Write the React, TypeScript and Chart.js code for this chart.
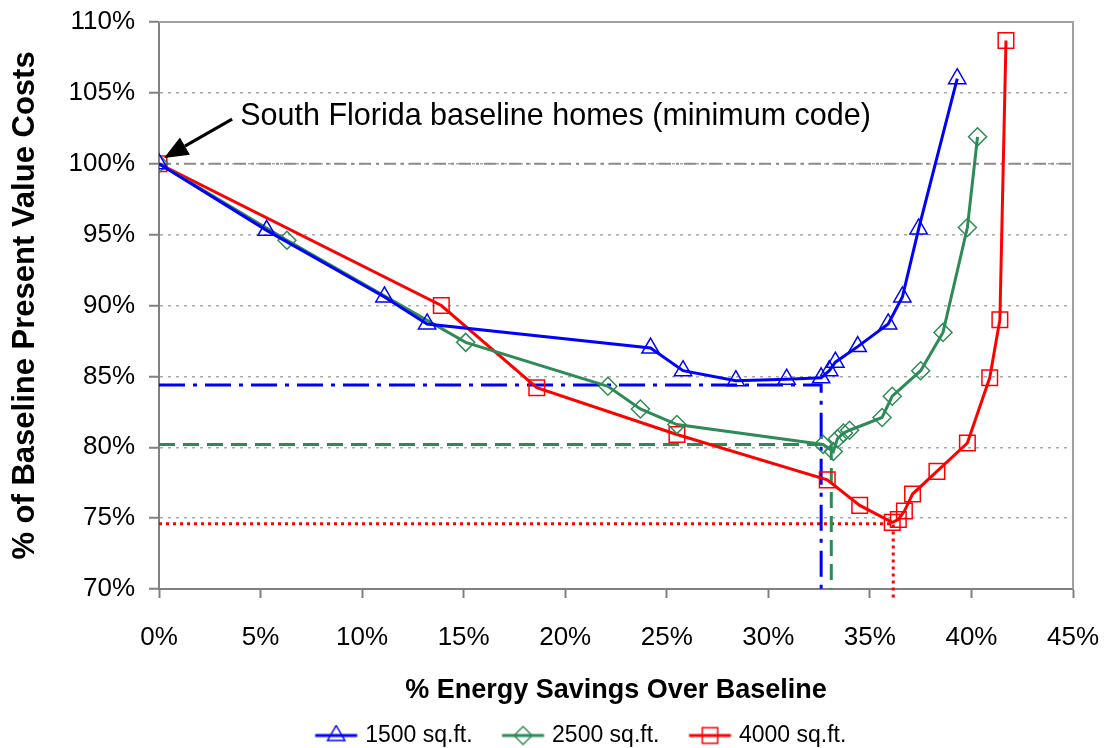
import React, { useEffect, useRef } from "react";
import { Chart, registerables } from "chart.js";

Chart.register(...registerables);

// ---------- data ----------
const seriesLabels = ["1500 sq.ft.", "2500 sq.ft.", "4000 sq.ft."];

const blueX = [0, 5.3, 11.1, 13.2, 24.2, 25.8, 28.4, 30.9, 32.6, 33.0, 33.3, 34.4, 35.9, 36.6, 37.4, 39.3];
const blueY = [100, 95.3, 90.6, 88.7, 87.0, 85.4, 84.7, 84.8, 84.9, 85.4, 86.0, 87.1, 88.7, 90.6, 95.4, 106.0];

const greenX = [0, 6.3, 15.1, 22.1, 23.7, 25.5, 32.7, 33.2, 33.4, 33.7, 34.0, 35.6, 36.1, 37.5, 38.6, 39.8, 40.3];
const greenY = [100, 94.6, 87.4, 84.3, 82.7, 81.6, 80.2, 79.7, 80.6, 81.0, 81.2, 82.1, 83.6, 85.4, 88.1, 95.5, 101.9];

const redX = [0, 13.9, 18.6, 25.5, 32.9, 34.5, 36.1, 36.4, 36.7, 37.1, 38.3, 39.8, 40.9, 41.4, 41.7];
const redY = [100, 90.0, 84.2, 80.9, 77.7, 75.9, 74.7, 74.9, 75.5, 76.7, 78.3, 80.3, 84.9, 89.0, 108.7];

// reference (optimum) lines
const refBlueX = [0, 32.6, 32.6];
const refBlueY = [84.4, 84.4, 70];
const refGreenX = [0, 33.1, 33.1];
const refGreenY = [80.2, 80.2, 70];
const refRedX = [0, 36.15, 36.15];
const refRedY = [74.6, 74.6, 69.3];
const baselineX = [0, 45];
const baselineY = [100, 100];

const xMin = 0, xMax = 45, xStep = 5;
const yMin = 70, yMax = 110, yStep = 5;

const annotationText = "South Florida baseline homes (minimum code)";
const annotationPos = { x: 4.0, y: 103.35 };
const arrowFrom = { x: 3.6, y: 103.15 };
const arrowTo = { x: 0.25, y: 100.4 };

const xTitle = "% Energy Savings Over Baseline";
const yTitle = "% of Baseline Present Value Costs";

// ---------- helpers ----------
const toXY = (xs: number[], ys: number[]) => xs.map((x, i) => ({ x, y: ys[i] }));

const FONT = "'Liberation Sans', Arial, sans-serif";
const BLUE = "#0000ff";
const GREEN = "#2e8b57";
const RED = "#ff0000";

const LEGEND_SHIFT_X = 31;
const LEGEND_SHIFT_Y = 9;
const ICON_BOX = 65;
const ICON_CANVAS = 85;

function makeLegendIcon(color: string, style: string, radius: number) {
  const c = document.createElement("canvas");
  c.width = ICON_CANVAS;
  c.height = 22;
  const ctx = c.getContext("2d")!;
  const off = (ICON_CANVAS - ICON_BOX) / 2;
  const x0 = off + 26.5, x1 = off + 68.5;
  ctx.strokeStyle = color;
  ctx.lineWidth = 3;
  ctx.beginPath();
  ctx.moveTo(x0, 11);
  ctx.lineTo(x1, 11);
  ctx.stroke();
  ctx.lineWidth = 1.5;
  ctx.beginPath();
  const cx = (x0 + x1) / 2, cy = 11;
  if (style === "triangle") {
    const h = radius;
    ctx.moveTo(cx, cy - h);
    ctx.lineTo(cx + h * 0.866, cy + h * 0.5);
    ctx.lineTo(cx - h * 0.866, cy + h * 0.5);
    ctx.closePath();
  } else if (style === "rectRot") {
    ctx.moveTo(cx, cy - radius);
    ctx.lineTo(cx + radius, cy);
    ctx.lineTo(cx, cy + radius);
    ctx.lineTo(cx - radius, cy);
    ctx.closePath();
  } else {
    const s = radius * Math.SQRT1_2;
    ctx.rect(cx - s, cy - s, 2 * s, 2 * s);
  }
  ctx.stroke();
  return c;
}

const annotationPlugin = {
  id: "annotationPlugin",
  afterLayout(chart: any) {
    if (chart.legend) {
      chart.legend.left += LEGEND_SHIFT_X;
      chart.legend.right += LEGEND_SHIFT_X;
      chart.legend.top += LEGEND_SHIFT_Y;
      chart.legend.bottom += LEGEND_SHIFT_Y;
    }
  },
  afterDraw(chart: any) {
    const { ctx, chartArea, scales } = chart;
    const xs = scales.x, ys = scales.y;
    ctx.save();
    // plot frame (top & right)
    ctx.strokeStyle = "#a0a0a0";
    ctx.lineWidth = 2;
    ctx.beginPath();
    ctx.moveTo(chartArea.left, chartArea.top);
    ctx.lineTo(chartArea.right, chartArea.top);
    ctx.lineTo(chartArea.right, chartArea.bottom);
    ctx.stroke();

    // annotation text
    ctx.fillStyle = "#000";
    ctx.font = `30.5px ${FONT}`;
    ctx.textBaseline = "middle";
    ctx.textAlign = "left";
    ctx.fillText(annotationText, xs.getPixelForValue(annotationPos.x), ys.getPixelForValue(annotationPos.y));

    // arrow
    const x1 = xs.getPixelForValue(arrowFrom.x), y1 = ys.getPixelForValue(arrowFrom.y);
    const x2 = xs.getPixelForValue(arrowTo.x), y2 = ys.getPixelForValue(arrowTo.y);
    const ang = Math.atan2(y2 - y1, x2 - x1);
    const headLen = 24, headW = 10;
    const bx = x2 - headLen * Math.cos(ang), by = y2 - headLen * Math.sin(ang);
    ctx.strokeStyle = "#000";
    ctx.lineWidth = 3;
    ctx.beginPath();
    ctx.moveTo(x1, y1);
    ctx.lineTo(bx, by);
    ctx.stroke();
    ctx.beginPath();
    ctx.moveTo(x2, y2);
    ctx.lineTo(bx + headW * Math.sin(ang), by - headW * Math.cos(ang));
    ctx.lineTo(bx - headW * Math.sin(ang), by + headW * Math.cos(ang));
    ctx.closePath();
    ctx.fillStyle = "#000";
    ctx.fill();
    ctx.restore();
  },
};

export default function App() {
  const canvasRef = useRef<HTMLCanvasElement | null>(null);

  useEffect(() => {
    document.body.style.margin = "0";
    const canvas = canvasRef.current;
    if (!canvas) return;

    const icons = [
      makeLegendIcon(BLUE, "triangle", 10),
      makeLegendIcon(GREEN, "rectRot", 9),
      makeLegendIcon(RED, "rect", 11),
    ];

    const seriesBase = {
      borderWidth: 3,
      pointBorderWidth: 1.5,
      pointBackgroundColor: "rgba(0,0,0,0)",
      tension: 0,
      order: 0,
    };
    const refBase = {
      borderWidth: 3,
      pointRadius: 0,
      tension: 0,
      order: 5,
    };

    const chart = new Chart(canvas, {
      type: "line",
      data: {
        datasets: [
          {
            ...seriesBase,
            label: seriesLabels[0],
            data: toXY(blueX, blueY),
            borderColor: BLUE,
            pointBorderColor: BLUE,
            pointStyle: "triangle",
            pointRadius: 10,
          },
          {
            ...seriesBase,
            label: seriesLabels[1],
            data: toXY(greenX, greenY),
            borderColor: GREEN,
            pointBorderColor: GREEN,
            pointStyle: "rectRot",
            pointRadius: 9,
          },
          {
            ...seriesBase,
            label: seriesLabels[2],
            data: toXY(redX, redY),
            borderColor: RED,
            pointBorderColor: RED,
            pointStyle: "rect",
            pointRadius: 11,
          },
          {
            ...refBase,
            label: "ref1500",
            data: toXY(refBlueX, refBlueY),
            borderColor: BLUE,
            borderDash: [26, 8, 4, 8],
          },
          {
            ...refBase,
            label: "ref2500",
            data: toXY(refGreenX, refGreenY),
            borderColor: GREEN,
            borderDash: [16, 8],
          },
          {
            ...refBase,
            label: "ref4000",
            data: toXY(refRedX, refRedY),
            borderColor: RED,
            borderDash: [3, 4],
            clip: false as any,
          },
          {
            ...refBase,
            label: "baseline",
            data: toXY(baselineX, baselineY),
            borderColor: "#8c8c8c",
            borderWidth: 2,
            borderDash: [12, 5, 3, 5],
            order: 6,
          },
        ],
      },
      options: {
        animation: false,
        responsive: false,
        events: [],
        layout: { padding: { top: 22, right: 35, left: 0, bottom: 0 } },
        plugins: {
          tooltip: { enabled: false },
          legend: {
            display: true,
            position: "bottom",
            labels: {
              usePointStyle: true,
              pointStyleWidth: ICON_BOX,
              boxHeight: 22,
              padding: 3,
              color: "#000",
              font: { family: FONT, size: 23 },
              generateLabels: (ch: any) => {
                const base = Chart.defaults.plugins.legend.labels.generateLabels(ch);
                return base
                  .filter((l: any) => l.datasetIndex < 3)
                  .map((l: any) => ({ ...l, pointStyle: icons[l.datasetIndex], lineWidth: 0 }));
              },
            },
          },
        },
        scales: {
          x: {
            type: "linear",
            min: xMin,
            max: xMax,
            afterFit: (s: any) => {
              s.height = 123;
              s.paddingLeft = 0;
              s.paddingRight = 0;
            },
            ticks: {
              stepSize: xStep,
              color: "#000",
              font: { family: FONT, size: 26 },
              padding: 24,
              callback: (v: any) => `${v}%`,
              maxRotation: 0,
            },
            grid: {
              drawOnChartArea: false,
              color: "#808080",
              tickColor: "#808080",
              tickLength: 9,
              tickWidth: 2,
            },
            border: { color: "#808080", width: 2 },
            title: {
              display: true,
              text: xTitle,
              color: "#000",
              font: { family: FONT, size: 27, weight: "bold" },
              padding: { top: 0, bottom: 5 },
            },
          },
          y: {
            type: "linear",
            min: yMin,
            max: yMax,
            afterFit: (s: any) => {
              s.width = 159;
              s.paddingTop = 0;
              s.paddingBottom = 0;
            },
            ticks: {
              stepSize: yStep,
              color: "#000",
              font: { family: FONT, size: 26 },
              padding: 14,
              callback: (v: any) => `${v}%`,
            },
            grid: {
              color: "#a8a8a8",
              lineWidth: 1.5,
              tickColor: "#808080",
              tickLength: 10,
              tickWidth: 2,
              tickBorderDash: [],
            },
            border: { color: "#808080", width: 2, dash: [3, 5] },
            title: {
              display: true,
              text: yTitle,
              color: "#000",
              font: { family: FONT, size: 31, weight: "bold" },
              padding: { top: 7, bottom: 0 },
            },
          },
        },
      },
      plugins: [annotationPlugin],
    } as any);

    return () => chart.destroy();
  }, []);

  return (
    <div style={{ position: "absolute", left: 0, top: 0, width: 1108, height: 748, background: "#fff" }}>
      <canvas ref={canvasRef} width={1108} height={748} style={{ width: 1108, height: 748, display: "block" }} />
    </div>
  );
}
